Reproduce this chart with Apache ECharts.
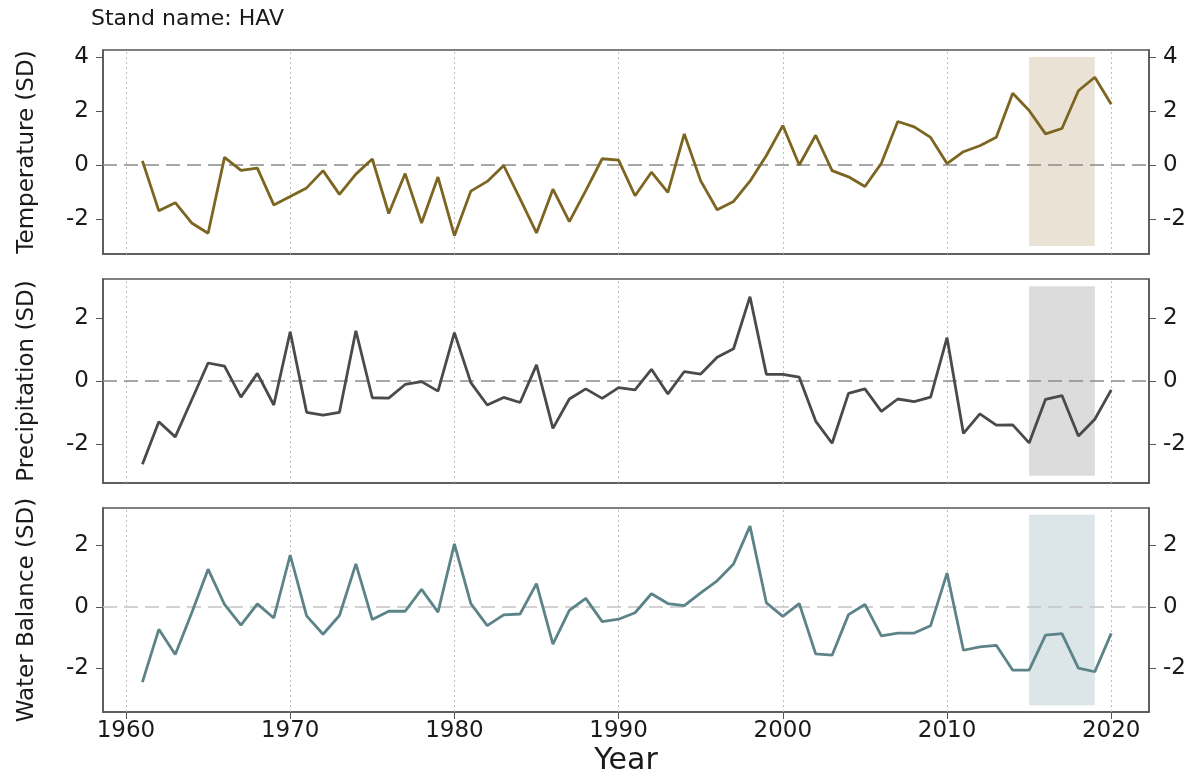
<!DOCTYPE html>
<html>
<head>
<meta charset="utf-8">
<script src="https://cdn.jsdelivr.net/npm/echarts@6/dist/echarts.min.js"></script>
<style>
html,body{margin:0;padding:0;background:#fff;}
#chart{width:1197px;height:782px;}
</style>
</head>
<body>
<div id="chart"></div>
<script>
const titleText = 'Stand name: HAV';
const years = [1961,1962,1963,1964,1965,1966,1967,1968,1969,1970,
  1971,1972,1973,1974,1975,1976,1977,1978,1979,1980,
  1981,1982,1983,1984,1985,1986,1987,1988,1989,1990,
  1991,1992,1993,1994,1995,1996,1997,1998,1999,2000,
  2001,2002,2003,2004,2005,2006,2007,2008,2009,2010,
  2011,2012,2013,2014,2015,2016,2017,2018,2019,2020];
const temperature = [0.15,-1.7,-1.4,-2.15,-2.53,0.28,-0.2,-0.12,-1.48,-1.17,
  -0.85,-0.21,-1.09,-0.34,0.22,-1.8,-0.32,-2.15,-0.45,-2.62,
  -0.97,-0.61,-0.02,-1.26,-2.52,-0.9,-2.1,-0.95,0.23,0.18,
  -1.14,-0.27,-1.02,1.15,-0.59,-1.66,-1.35,-0.6,0.35,1.46,
  0.0,1.1,-0.21,-0.44,-0.8,0.06,1.61,1.41,1.02,0.05,
  0.49,0.71,1.03,2.66,2.02,1.15,1.35,2.75,3.25,2.25];
const precipitation = [-2.64,-1.29,-1.77,-0.6,0.57,0.47,-0.51,0.24,-0.76,1.56,
  -0.99,-1.08,-0.99,1.59,-0.53,-0.54,-0.11,-0.02,-0.32,1.53,
  -0.05,-0.76,-0.52,-0.68,0.51,-1.5,-0.57,-0.25,-0.55,-0.21,
  -0.28,0.37,-0.41,0.3,0.22,0.75,1.02,2.67,0.21,0.21,
  0.12,-1.27,-1.97,-0.39,-0.25,-0.96,-0.57,-0.65,-0.51,1.37,
  -1.66,-1.04,-1.4,-1.39,-1.96,-0.58,-0.46,-1.74,-1.21,-0.28];
const waterBalance = [-2.45,-0.73,-1.55,-0.2,1.23,0.08,-0.59,0.1,-0.36,1.69,
  -0.29,-0.89,-0.28,1.4,-0.41,-0.14,-0.14,0.57,-0.17,2.05,
  0.11,-0.61,-0.26,-0.23,0.76,-1.21,-0.11,0.28,-0.48,-0.4,
  -0.19,0.43,0.11,0.04,0.46,0.85,1.4,2.63,0.13,-0.31,
  0.11,-1.53,-1.57,-0.25,0.08,-0.94,-0.85,-0.85,-0.61,1.1,
  -1.41,-1.3,-1.25,-2.06,-2.06,-0.92,-0.87,-1.99,-2.11,-0.86];
const panelNames = ['Temperature (SD)','Precipitation (SD)','Water Balance (SD)'];
const xTicks = [1960,1970,1980,1990,2000,2010,2020];
const yTicksTemp = [-2,0,2,4];
const yTicksOther = [-2,0,2];
const bandYears = [2015,2019];
const bandTemp = [-3,4];
const bandPrecip = [-3,3];
const bandWater = [-3.2,3];
const xLabel = 'Year';

const FONT = 'DejaVu Sans';
const AX = '#555';
const TXT = '#1a1a1a';
const panels = [
  {name: panelNames[0], values: temperature, ticks: yTicksTemp, band: bandTemp, min: -3.3, max: 4.26,
   line: '#7c6520', fill: '#e9e2d5', zero: '#8a8a8a', top: 50},
  {name: panelNames[1], values: precipitation, ticks: yTicksOther, band: bandPrecip, min: -3.23, max: 3.23,
   line: '#4a4a4a', fill: '#dcdcdc', zero: '#8a8a8a', top: 279},
  {name: panelNames[2], values: waterBalance, ticks: yTicksOther, band: bandWater, min: -3.42, max: 3.22,
   line: '#5c8387', fill: '#dce5e8', zero: '#c4c4c4', top: 508}
];

const grid = [], xAxis = [], yAxis = [], series = [];
panels.forEach((p, i) => {
  const last = i === panels.length - 1;
  grid.push({left: 103, right: 48, top: p.top, height: 204, show: true,
    borderColor: AX, borderWidth: 1.5, containLabel: false});
  xAxis.push({type: 'value', gridIndex: i, min: 1958.6, max: 2022.3,
    splitLine: {show: false},
    axisLine: {show: true, onZero: false, lineStyle: {color: AX, width: 1.5}},
    axisTick: {show: last, customValues: xTicks, length: 7, lineStyle: {color: AX, width: 1}},
    axisLabel: {show: last, customValues: xTicks, fontSize: 23, fontFamily: FONT, color: TXT, margin: 8,
      formatter: v => String(v)},
    name: last ? xLabel : '', nameLocation: 'middle', nameGap: 34,
    nameTextStyle: {fontSize: 30, fontFamily: FONT, color: TXT}
  });
  const yBase = {type: 'value', gridIndex: i, min: p.min, max: p.max,
    splitLine: {show: false},
    axisLine: {show: true, onZero: false, lineStyle: {color: AX, width: 1.5}},
    axisTick: {show: true, customValues: p.ticks, length: 7, lineStyle: {color: AX, width: 1}},
    axisLabel: {customValues: p.ticks, fontSize: 23, fontFamily: FONT, color: TXT, margin: 14,
      formatter: v => String(v)}};
  yAxis.push(Object.assign({}, yBase, {position: 'left', name: p.name, nameLocation: 'middle',
    nameRotate: 90, nameGap: 64, nameTextStyle: {fontSize: 23, fontFamily: FONT, color: TXT}}));
  yAxis.push(Object.assign({}, yBase, {position: 'right'}));
  series.push({
    type: 'line', xAxisIndex: i, yAxisIndex: i * 2,
    data: years.map((y, k) => [y, p.values[k]]),
    symbol: 'none', silent: true, z: 5,
    lineStyle: {color: p.line, width: 2.8},
    markArea: {silent: true, itemStyle: {color: p.fill},
      data: [[{xAxis: bandYears[0], yAxis: p.band[0]}, {xAxis: bandYears[1], yAxis: p.band[1]}]]},
    markLine: {silent: true, symbol: 'none', label: {show: false}, animation: false,
      data: xTicks.map(t => ({xAxis: t, lineStyle: {color: '#bdbdbd', type: [2, 3], width: 1}}))
        .concat([{yAxis: 0, lineStyle: {color: p.zero, type: [14, 7], width: 1.6}}])}
  });
});

const chart = echarts.init(document.getElementById('chart'));
chart.setOption({
  animation: false,
  backgroundColor: '#fff',
  title: {text: titleText, left: 86, top: 3,
    textStyle: {fontSize: 22, fontWeight: 'normal', fontFamily: FONT, color: TXT}},
  grid, xAxis, yAxis, series
});
</script>
</body>
</html>
